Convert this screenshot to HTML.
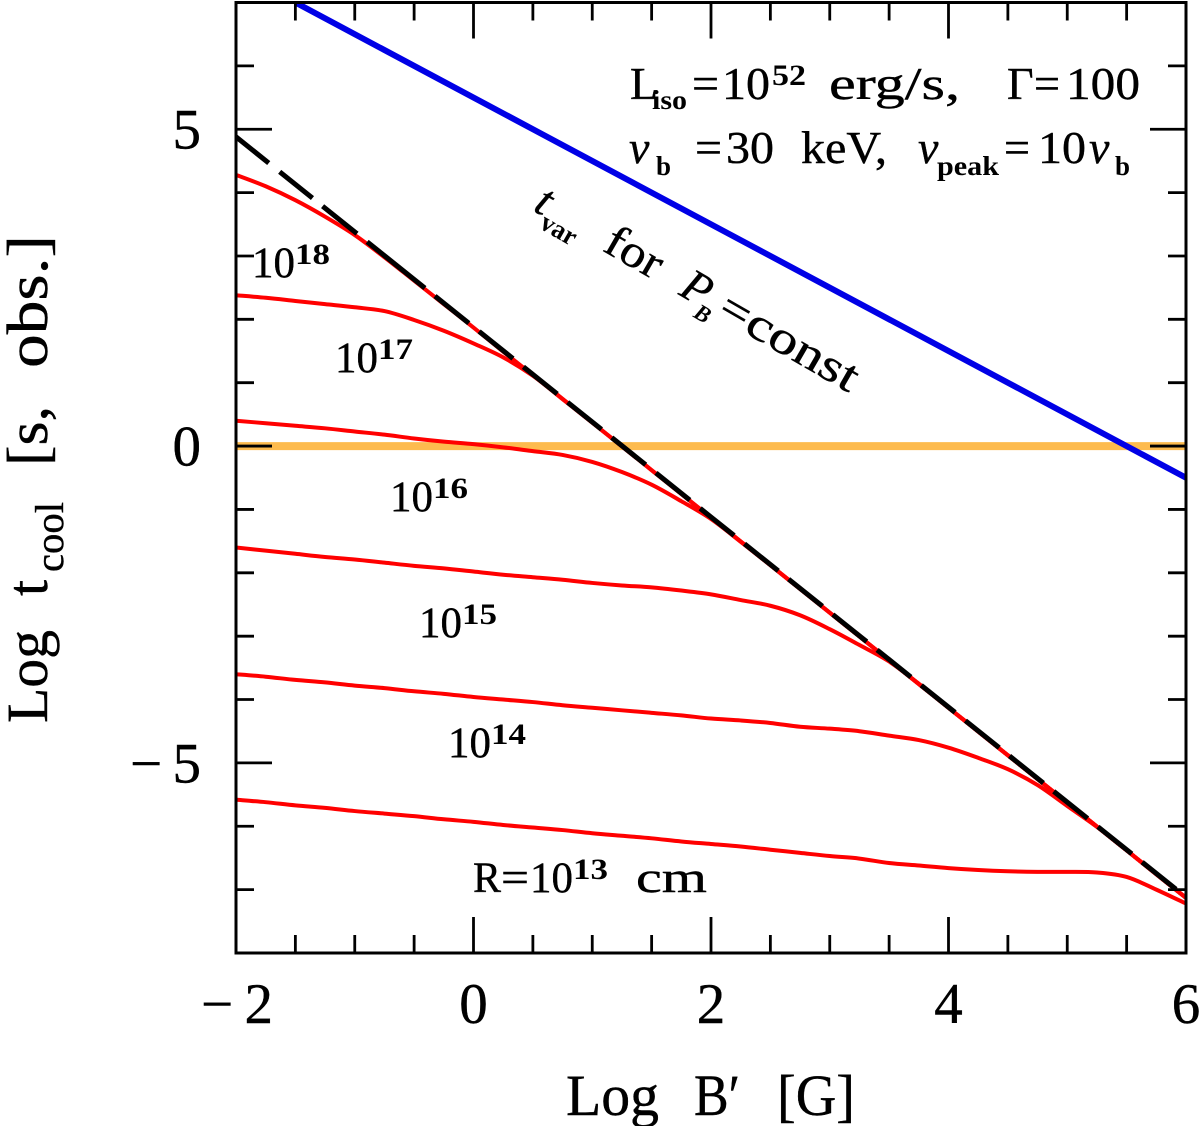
<!DOCTYPE html>
<html lang="en">
<head>
<meta charset="utf-8">
<title>Log t_cool vs Log B'</title>
<style>
html,body{margin:0;padding:0;background:#fff}
svg{display:block}
text{font-family:"Liberation Serif","DejaVu Serif",serif;fill:#000;stroke:#000;stroke-width:.4}
.b{font-weight:bold;stroke-width:0}
.i{font-style:italic}
</style>
</head>
<body>
<svg id="chart" xmlns="http://www.w3.org/2000/svg" width="1200" height="1126" viewBox="0 0 1200 1126">
<defs><clipPath id="plot-clip"><rect x="236" y="2.5" width="950" height="950.5"/></clipPath></defs>
<g id="marks" clip-path="url(#plot-clip)"></g>
<g id="axes"></g>

<g font-size="58">
<text transform="translate(47,723) rotate(-90)" textLength="93" lengthAdjust="spacingAndGlyphs">Log</text>
<text transform="translate(47,596) rotate(-90)">t</text>
<text transform="translate(63,572) rotate(-90)" font-size="40" textLength="70" lengthAdjust="spacingAndGlyphs">cool</text>
<text transform="translate(47,466) rotate(-90)" textLength="60" lengthAdjust="spacingAndGlyphs">[s,</text>
<text transform="translate(47,368) rotate(-90)" textLength="133" lengthAdjust="spacingAndGlyphs">obs.]</text>
</g>

<g font-size="58">
<text x="566" y="1115" textLength="93" lengthAdjust="spacingAndGlyphs">Log</text>
<text x="694" y="1115" textLength="46" lengthAdjust="spacingAndGlyphs">B′</text>
<text x="777" y="1115" textLength="78" lengthAdjust="spacingAndGlyphs">[G]</text>
</g>

<g font-size="46">
<text x="630" y="99">L</text>
<text x="652" y="109" font-size="27" class="b" textLength="35" lengthAdjust="spacingAndGlyphs">iso</text>
<text x="692" y="99" textLength="27" lengthAdjust="spacingAndGlyphs">=</text>
<text x="722" y="99" textLength="48" lengthAdjust="spacingAndGlyphs">10</text>
<text x="772" y="85" font-size="30" class="b" textLength="34" lengthAdjust="spacingAndGlyphs">52</text>
<text x="829" y="99" textLength="131" lengthAdjust="spacingAndGlyphs">erg/s,</text>
<text x="1007" y="99">Γ</text>
<text x="1034" y="99" textLength="26" lengthAdjust="spacingAndGlyphs">=</text>
<text x="1066" y="99" textLength="74" lengthAdjust="spacingAndGlyphs">100</text>
</g>

<g font-size="46">
<text x="629" y="163" class="i">ν</text>
<text x="656" y="175" font-size="27" class="b">b</text>
<text x="695" y="163" textLength="27" lengthAdjust="spacingAndGlyphs">=</text>
<text x="726" y="163" textLength="48" lengthAdjust="spacingAndGlyphs">30</text>
<text x="801" y="163" textLength="86" lengthAdjust="spacingAndGlyphs">keV,</text>
<text x="918" y="163" class="i">ν</text>
<text x="937" y="175" font-size="27" class="b" textLength="62" lengthAdjust="spacingAndGlyphs">peak</text>
<text x="1004" y="163" textLength="26" lengthAdjust="spacingAndGlyphs">=</text>
<text x="1038" y="163" textLength="48" lengthAdjust="spacingAndGlyphs">10</text>
<text x="1089" y="163" class="i">ν</text>
<text x="1115" y="175" font-size="27" class="b">b</text>
</g>

<g transform="translate(532,210) rotate(30)" font-size="46">
<text x="0" y="0" class="i">t</text>
<text x="14" y="12" font-size="27" class="b" textLength="38" lengthAdjust="spacingAndGlyphs">var</text>
<text x="80" y="0" textLength="60" lengthAdjust="spacingAndGlyphs">for</text>
<text x="168" y="0" class="i">P</text>
<text x="192" y="12" font-size="23" class="b i">B</text>
<text x="212" y="0" textLength="30" lengthAdjust="spacingAndGlyphs">=</text>
<text x="243" y="0" textLength="123" lengthAdjust="spacingAndGlyphs">const</text>
</g>

<g font-size="43">
<g><text x="252" y="277">10</text><text x="295" y="264" font-size="30" class="b" textLength="35" lengthAdjust="spacingAndGlyphs">18</text></g>
<g><text x="335" y="372">10</text><text x="378" y="359" font-size="30" class="b" textLength="35" lengthAdjust="spacingAndGlyphs">17</text></g>
<g><text x="390" y="511">10</text><text x="433" y="498" font-size="30" class="b" textLength="35" lengthAdjust="spacingAndGlyphs">16</text></g>
<g><text x="419" y="637">10</text><text x="462" y="624" font-size="30" class="b" textLength="35" lengthAdjust="spacingAndGlyphs">15</text></g>
<g><text x="448" y="757">10</text><text x="491" y="744" font-size="30" class="b" textLength="35" lengthAdjust="spacingAndGlyphs">14</text></g>
<g><text x="473" y="892" textLength="28" lengthAdjust="spacingAndGlyphs">R</text><text x="501" y="892" textLength="28" lengthAdjust="spacingAndGlyphs">=</text><text x="530" y="892">10</text><text x="573" y="879" font-size="30" class="b" textLength="35" lengthAdjust="spacingAndGlyphs">13</text><text x="636" y="892" textLength="71" lengthAdjust="spacingAndGlyphs">cm</text></g>
</g>
</svg>

<script>
// Data: x = Log B' [G], y = Log t_cool [s, obs.]
const xGrid = [-2,-1.75,-1.5,-1.25,-1,-0.75,-0.5,-0.25,0,0.25,0.5,0.75,1,1.25,1.5,1.75,2,2.25,2.5,2.75,3,3.25,3.5,3.75,4,4.25,4.5,4.75,5,5.25,5.5,5.75,6];
const seriesR18 = [4.28,4.10,3.88,3.62,3.33,2.98,2.61,2.24,1.87,1.49,1.12,0.745,0.37,-0.005,-0.38,-0.755,-1.13,-1.505,-1.88,-2.255,-2.63,-3.005,-3.38,-3.755,-4.13,-4.505,-4.88,-5.255,-5.63,-6.005,-6.38,-6.755,-7.13];
const seriesR17 = [2.38,2.34,2.29,2.24,2.19,2.13,1.99,1.82,1.62,1.40,1.11,0.74,0.37,-0.005,-0.38,-0.755,-1.13,-1.505,-1.88,-2.255,-2.63,-3.005,-3.38,-3.755,-4.13,-4.505,-4.88,-5.255,-5.63,-6.005,-6.38,-6.755,-7.13];
const seriesR16 = [0.40,0.36,0.32,0.28,0.23,0.18,0.12,0.07,0.03,-0.02,-0.08,-0.14,-0.25,-0.41,-0.61,-0.87,-1.15,-1.51,-1.88,-2.255,-2.63,-3.005,-3.38,-3.755,-4.13,-4.505,-4.88,-5.255,-5.63,-6.005,-6.38,-6.755,-7.13];
const seriesR15 = [-1.60,-1.65,-1.70,-1.75,-1.79,-1.84,-1.89,-1.93,-1.98,-2.03,-2.07,-2.11,-2.16,-2.20,-2.23,-2.28,-2.34,-2.43,-2.52,-2.67,-2.89,-3.14,-3.40,-3.75,-4.13,-4.505,-4.88,-5.255,-5.63,-6.005,-6.38,-6.755,-7.13];
const seriesR14 = [-3.60,-3.64,-3.69,-3.73,-3.78,-3.82,-3.87,-3.91,-3.96,-4.00,-4.04,-4.09,-4.13,-4.17,-4.21,-4.25,-4.30,-4.33,-4.37,-4.43,-4.46,-4.50,-4.57,-4.64,-4.76,-4.92,-5.10,-5.35,-5.68,-6.01,-6.38,-6.76,-7.13];
const seriesR13 = [-5.58,-5.62,-5.67,-5.71,-5.76,-5.80,-5.84,-5.89,-5.93,-5.98,-6.02,-6.06,-6.11,-6.15,-6.19,-6.24,-6.28,-6.32,-6.37,-6.42,-6.47,-6.51,-6.58,-6.62,-6.66,-6.69,-6.71,-6.72,-6.72,-6.73,-6.80,-7.00,-7.22];
const blueX = [-1.5,6];
const blueY = [7,-0.5];
const blackX = [-2,6];
const blackY = [4.88,-7.12];
const orangeX = [-2,6];
const orangeY = [0,0];
const xTicksMajor = [-2,0,2,4,6];
const xTickLabels = ['−2','0','2','4','6'];
const xTicksMinor = [-1.5,-1,-0.5,0.5,1,1.5,2.5,3,3.5,4.5,5,5.5];
const yTicksMajor = [5,0,-5];
const yTickLabels = ['5','0','−5'];
const yTicksMinor = [6,4,3,2,1,-1,-2,-3,-4,-6,-7];

const NS = 'http://www.w3.org/2000/svg';
const PX_LEFT = 236, PX_RIGHT = 1186, PX_TOP = 2.5, PX_BOTTOM = 953;
const X_MIN = -2, X_MAX = 6, Y_MIN = -8, Y_MAX = 7;
function xScale(v){ return PX_LEFT + (v - X_MIN) * (PX_RIGHT - PX_LEFT) / (X_MAX - X_MIN); }
function yScale(v){ return PX_TOP + (Y_MAX - v) * (PX_BOTTOM - PX_TOP) / (Y_MAX - Y_MIN); }

const marks = document.getElementById('marks');
const axes = document.getElementById('axes');

// Smooth path through the data points (Catmull-Rom to cubic Bezier)
function linePath(xs, ys){
  const px = xs.map(xScale), py = ys.map(yScale);
  const n = px.length;
  let d = 'M' + px[0].toFixed(2) + ' ' + py[0].toFixed(2);
  for (let i = 0; i < n - 1; i++) {
    const a = Math.max(i - 1, 0), b = Math.min(i + 2, n - 1);
    const c1x = px[i] + (px[i + 1] - px[a]) / 6, c1y = py[i] + (py[i + 1] - py[a]) / 6;
    const c2x = px[i + 1] - (px[b] - px[i]) / 6, c2y = py[i + 1] - (py[b] - py[i]) / 6;
    d += 'C' + c1x.toFixed(2) + ' ' + c1y.toFixed(2) + ' ' + c2x.toFixed(2) + ' ' + c2y.toFixed(2) + ' ' + px[i + 1].toFixed(2) + ' ' + py[i + 1].toFixed(2);
  }
  return d;
}
function addCurve(xs, ys, color, width){
  const p = document.createElementNS(NS, 'path');
  p.setAttribute('d', linePath(xs, ys));
  p.setAttribute('fill', 'none');
  p.setAttribute('stroke', color);
  p.setAttribute('stroke-width', width);
  p.setAttribute('stroke-linejoin', 'round');
  marks.appendChild(p);
  return p;
}

let el;
el = addCurve(orangeX, orangeY, '#fdbb4e', 8);



el = addCurve(blueX, blueY, '#0000e6', 6);



el = addCurve(xGrid, seriesR18, '#ff0000', 4);



el = addCurve(xGrid, seriesR17, '#ff0000', 4);



el = addCurve(xGrid, seriesR16, '#ff0000', 4);



el = addCurve(xGrid, seriesR15, '#ff0000', 4);



el = addCurve(xGrid, seriesR14, '#ff0000', 4);



el = addCurve(xGrid, seriesR13, '#ff0000', 4);



el = addCurve(blackX, blackY, '#000000', 5);


let dash = '42 14 42 13 44 13 74 13';
for (let i = 0; i < 24; i++) dash += ' 43.3 13.3';
el.setAttribute('stroke-dasharray', dash);

function addTick(x1, y1, x2, y2, name){
  const t = document.createElementNS(NS, 'line');
  t.setAttribute('x1', x1);
  t.setAttribute('y1', y1);
  t.setAttribute('x2', x2);
  t.setAttribute('y2', y2);
  t.setAttribute('stroke', '#000');
  t.setAttribute('stroke-width', '2.8');
  
  
  axes.appendChild(t);
}
const SHORT = 18, LONG = 36;
xTicksMinor.forEach(v => {
  addTick(xScale(v), PX_BOTTOM, xScale(v), PX_BOTTOM - SHORT, 'x-minor-tick');
  addTick(xScale(v), PX_TOP, xScale(v), PX_TOP + SHORT, 'x-minor-tick-top');
});
xTicksMajor.forEach(v => {
  addTick(xScale(v), PX_BOTTOM, xScale(v), PX_BOTTOM - LONG, 'x-major-tick');
  addTick(xScale(v), PX_TOP, xScale(v), PX_TOP + LONG, 'x-major-tick-top');
});
yTicksMinor.forEach(v => {
  addTick(PX_LEFT, yScale(v), PX_LEFT + SHORT, yScale(v), 'y-minor-tick');
  addTick(PX_RIGHT, yScale(v), PX_RIGHT - SHORT, yScale(v), 'y-minor-tick-right');
});
yTicksMajor.forEach(v => {
  addTick(PX_LEFT, yScale(v), PX_LEFT + LONG, yScale(v), 'y-major-tick');
  addTick(PX_RIGHT, yScale(v), PX_RIGHT - LONG, yScale(v), 'y-major-tick-right');
});

const frame = document.createElementNS(NS, 'rect');
frame.setAttribute('x', PX_LEFT);
frame.setAttribute('y', PX_TOP);
frame.setAttribute('width', PX_RIGHT - PX_LEFT);
frame.setAttribute('height', PX_BOTTOM - PX_TOP);
frame.setAttribute('fill', 'none');
frame.setAttribute('stroke', '#000');
frame.setAttribute('stroke-width', '3');


axes.appendChild(frame);

xTicksMajor.forEach((v, i) => {
  const t = document.createElementNS(NS, 'text');
  t.setAttribute('y', 1023);
  t.setAttribute('font-size', 57);
  if (v < 0) {
    t.setAttribute('x', xScale(v) - 35);
    t.setAttribute('textLength', 72);
    t.setAttribute('lengthAdjust', 'spacing');
  } else {
    t.setAttribute('x', xScale(v));
    t.setAttribute('text-anchor', 'middle');
  }
  t.textContent = xTickLabels[i];
  
  
  axes.appendChild(t);
});
yTicksMajor.forEach((v, i) => {
  const t = document.createElementNS(NS, 'text');
  t.setAttribute('y', yScale(v) + 19.5);
  t.setAttribute('font-size', 57);
  if (v < 0) {
    t.setAttribute('x', 130);
    t.setAttribute('textLength', 71);
    t.setAttribute('lengthAdjust', 'spacing');
  } else {
    t.setAttribute('x', 201);
    t.setAttribute('text-anchor', 'end');
  }
  t.textContent = yTickLabels[i];
  
  
  axes.appendChild(t);
});
</script>
</body>
</html>
